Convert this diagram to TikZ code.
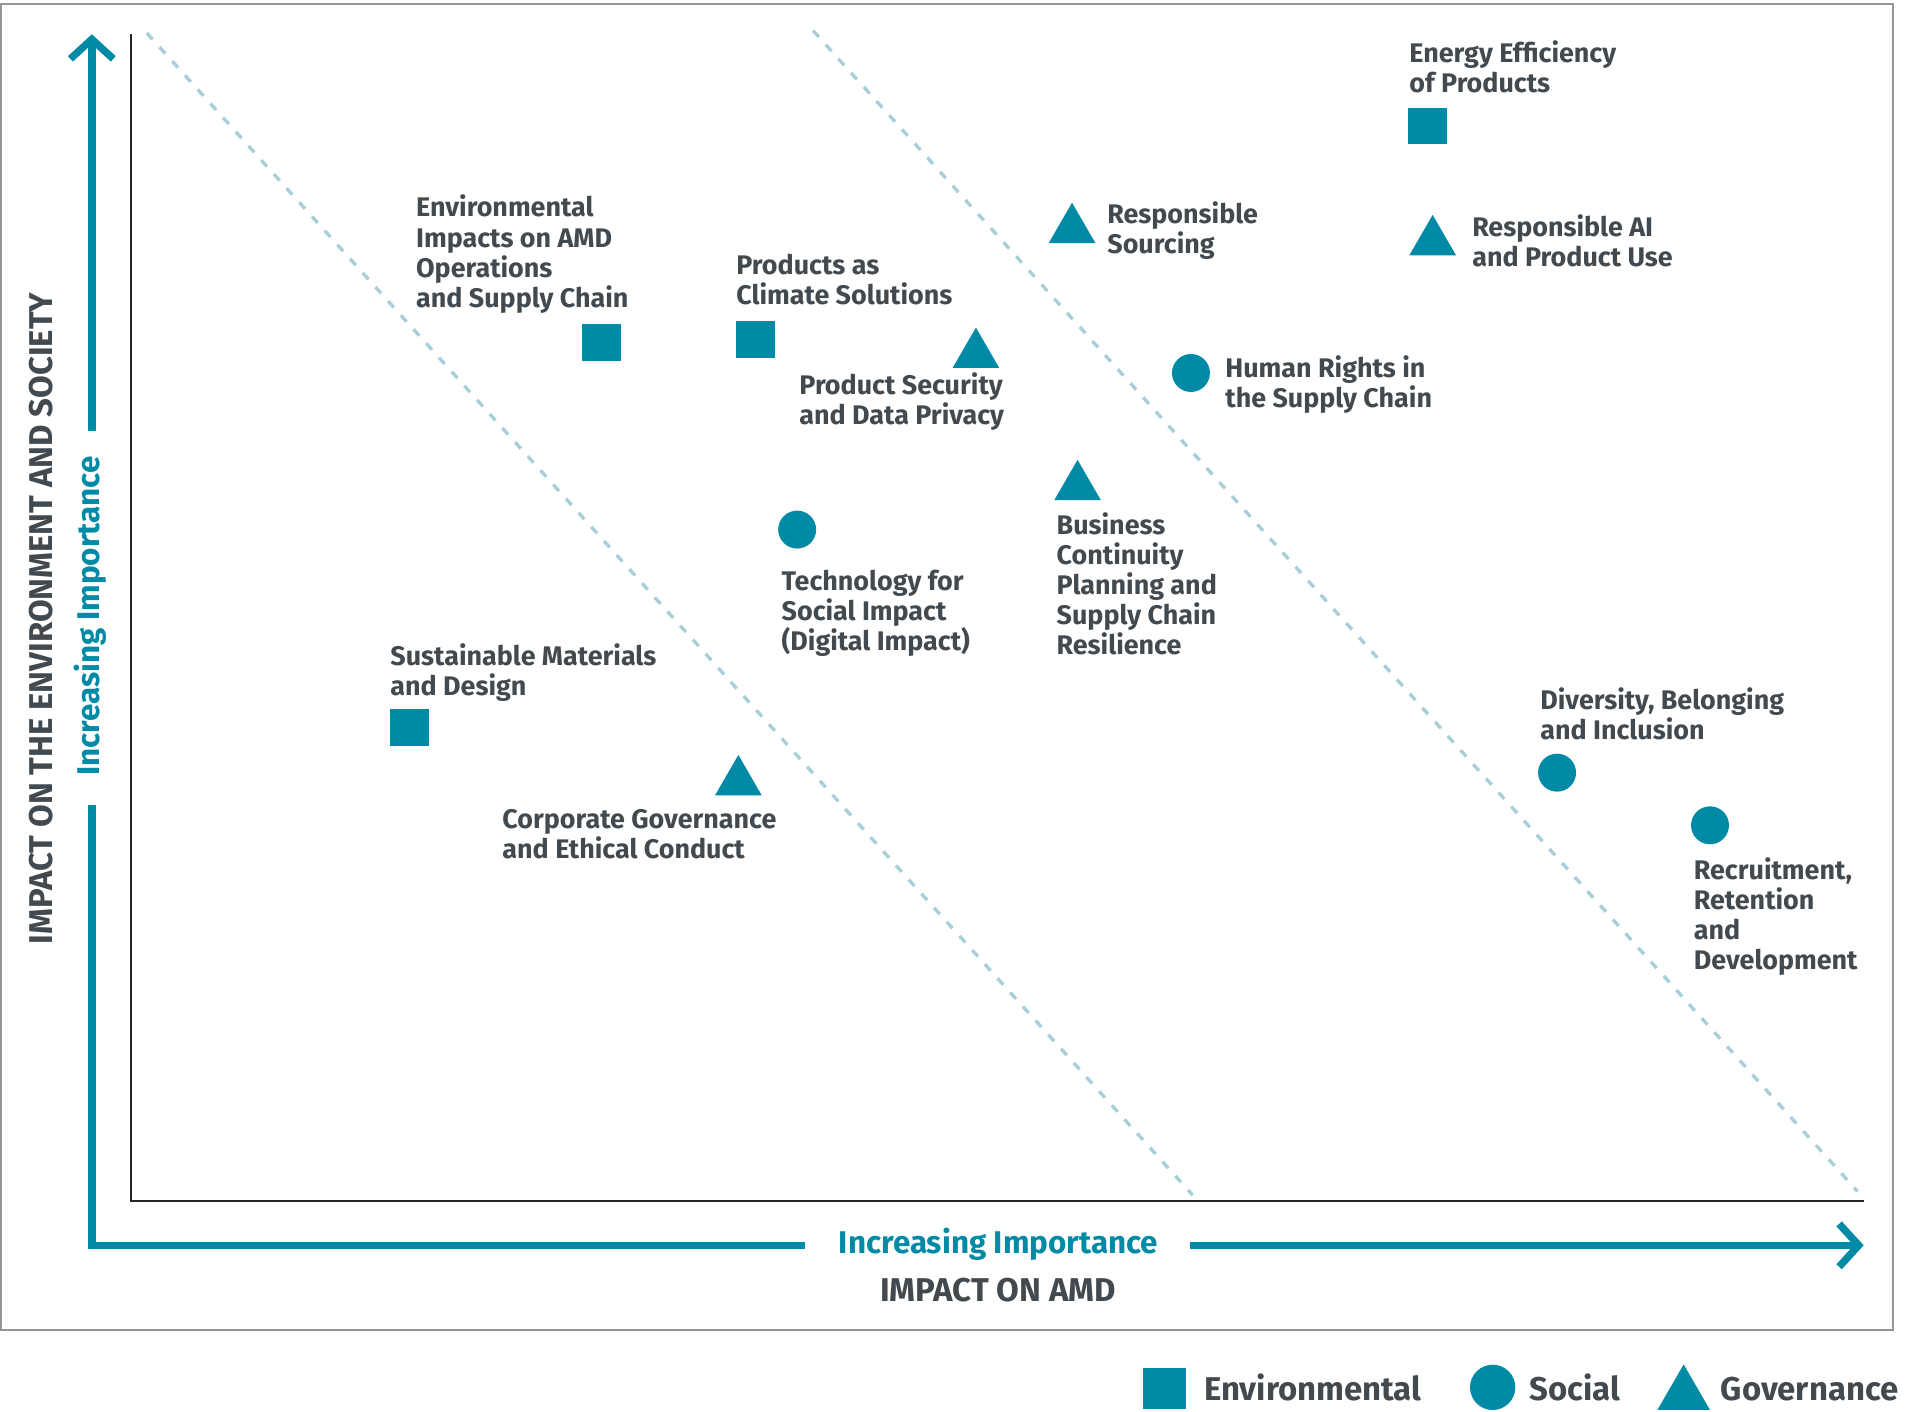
\documentclass[tikz,border=0pt]{standalone}
\usepackage{fontspec}
\setmainfont{Fira Sans}
\usetikzlibrary{arrows.meta,shapes.geometric}
\definecolor{amdteal}{RGB}{0,138,166}
\definecolor{txtgray}{RGB}{66,74,80}
\definecolor{dashblue}{RGB}{168,206,218}
\definecolor{framegray}{RGB}{150,150,150}
\newcommand{\lblfont}{\fontsize{12.5}{14}\selectfont\bfseries}
\newcommand{\axfont}{\fontsize{14.6}{17}\selectfont\bfseries}
\newcommand{\axgrayfont}{\fontsize{15.3}{18}\selectfont\bfseries}
\newcommand{\legfont}{\fontsize{15.3}{18}\selectfont\bfseries}
\tikzset{
  lbl/.style={anchor=north west,inner sep=0pt,align=left,text=txtgray,font=\lblfont},
  envmark/.style={rectangle,fill=amdteal,inner sep=0pt,minimum width=6.4mm,minimum height=6mm},
  socmark/.style={circle,fill=amdteal,inner sep=0pt,minimum size=6.2mm},
  govmark/.style={regular polygon,regular polygon sides=3,fill=amdteal,inner sep=0pt,minimum size=8.8mm},
  imparrow/.style={amdteal,line width=1.2mm},
  diagline/.style={dashblue,line width=0.55mm,dash pattern=on 1.4mm off 1.7mm},
  leglbl/.style={anchor=base west,inner sep=0pt,text=txtgray,font=\legfont},
}
\begin{document}
\begin{tikzpicture}[x=0.2mm,y=-0.2mm]
  \useasboundingbox (0,0) rectangle (1568,1153);
  \draw[framegray,line width=0.3mm] (1,3) rectangle (1546,1086);
  % diagonal bands
  \draw[diagline] (120,27) -- (974,976);
  \draw[diagline] (664,25) -- (1517,973);
  % axes
  \draw[black!85,line width=0.35mm] (107,28) -- (107,981) -- (1522,981);
  \node[rotate=90,anchor=base,text=txtgray,font=\axgrayfont] (envaxis) at (43,505) {IMPACT ON THE ENVIRONMENT AND SOCIETY};
  \node[rotate=90,anchor=base,text=amdteal,font=\axfont] (yimp) at (81,503) {Increasing Importance};
  \node[anchor=base,text=amdteal,font=\axfont] (ximp) at (815.5,1024) {Increasing Importance};
  \node[anchor=base,text=txtgray,font=\axgrayfont] (amdaxis) at (815,1063) {IMPACT ON AMD};
  \coordinate (orig) at (75,1017);
  \coordinate (ylow) at (75,657);
  \coordinate (yhigh) at (75,352);
  \coordinate (ytop) at (75,28);
  \coordinate (xleft) at (657,1017);
  \coordinate (xright) at (972,1017);
  \coordinate (xend) at (1522,1017);
  \draw[imparrow] (ylow) -- (orig) -- (xleft);
  \draw[imparrow,-{Straight Barb[length=3.2mm,width=7mm]}] (yhigh) -- (ytop);
  \draw[imparrow,-{Straight Barb[length=3.2mm,width=7mm]}] (xright) -- (xend);
  % environmental
  \node[envmark] (enEff) at (1166,103) {};
  \node[lbl] (enEffTxt) at (1150.7,33) {Energy Efficiency\\of Products};
  \node[envmark] (envOps) at (491,279.5) {};
  \node[lbl] (envOpsTxt) at (339.5,159) {Environmental\\Impacts on AMD\\Operations\\and Supply Chain};
  \node[envmark] (climate) at (617,277) {};
  \node[lbl] (climateTxt) at (601,207) {Products as\\Climate Solutions};
  \node[envmark] (material) at (334.5,594) {};
  \node[lbl] (materialTxt) at (318.5,525) {Sustainable Materials\\and Design};
  % social
  \node[socmark] (rights) at (972.6,304.6) {};
  \node[lbl] (rightsTxt) at (1000.4,290) {Human Rights in\\the Supply Chain};
  \node[socmark] (digital) at (651,432.5) {};
  \node[lbl] (digitalTxt) at (638,465) {Technology for\\Social Impact\\(Digital Impact)};
  \node[socmark] (divers) at (1271.6,631) {};
  \node[lbl] (diversTxt) at (1257.6,561.5) {Diversity, Belonging\\and Inclusion};
  \node[socmark] (recruit) at (1396.5,674) {};
  \node[lbl] (recruitTxt) at (1383,700) {Recruitment,\\Retention\\and\\Development};
  % governance
  \node[govmark] (sourcing) at (875.5,187.5) {};
  \node[lbl] (sourcingTxt) at (904,164.5) {Responsible\\Sourcing};
  \node[govmark] (respAI) at (1170,197.5) {};
  \node[lbl] (respAITxt) at (1202,175) {Responsible AI\\and Product Use};
  \node[govmark] (privacy) at (797,289.5) {};
  \node[lbl] (privacyTxt) at (652.5,304) {Product Security\\and Data Privacy};
  \node[govmark] (bcp) at (880,397.5) {};
  \node[lbl] (bcpTxt) at (862.6,418) {Business\\Continuity\\Planning and\\Supply Chain\\Resilience};
  \node[govmark] (ethics) at (603,638.5) {};
  \node[lbl] (ethicsTxt) at (410,660.5) {Corporate Governance\\and Ethical Conduct};
  % legend
  \node[envmark,minimum width=7mm,minimum height=6.6mm] (legEnv) at (951,1134) {};
  \node[leglbl] (legEnvTxt) at (983,1144) {Environmental};
  \node[socmark,minimum size=7.4mm] (legSoc) at (1219,1133) {};
  \node[leglbl] (legSocTxt) at (1249,1144) {Social};
  \node[govmark,minimum size=9.9mm] (legGov) at (1375,1139) {};
  \node[leglbl] (legGovTxt) at (1405,1144) {Governance};
\end{tikzpicture}
\end{document}
